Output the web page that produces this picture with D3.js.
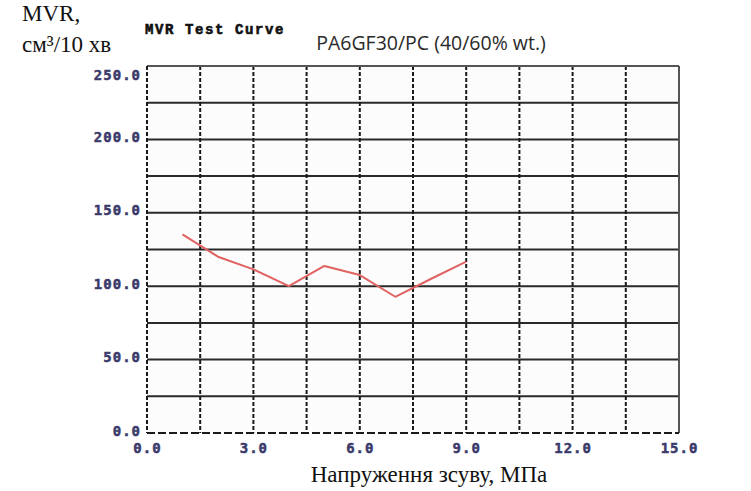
<!DOCTYPE html>
<html>
<head>
<meta charset="utf-8">
<script src="https://cdn.jsdelivr.net/npm/d3@7"></script>
<style>
  html, body { margin: 0; padding: 0; background: #ffffff; }
  svg { display: block; }
</style>
</head>
<body>
<svg id="chart" width="751" height="491"></svg>
<script>
// Shear stress (MPa) and melt volume rate (cm³/10 min)
const shearStress = [1, 2, 3, 4, 5, 6, 7, 8, 9];
const mvrValues = [135.3, 120.1, 111.5, 100.1, 113.8, 107.6, 92.8, 104.9, 116.7];
const xTickLabels = [0, 3, 6, 9, 12, 15];
const yTickLabels = [0, 50, 100, 150, 200, 250];
const xGridSteps = [1.5, 3, 4.5, 6, 7.5, 9, 10.5, 12, 13.5];
const yGridSteps = [25, 50, 75, 100, 125, 150, 175, 200, 225];

const svg = d3.select("#chart");
const plot = { left: 147, right: 679, top: 66, bottom: 433 };

const x = d3.scaleLinear().domain([0, 15]).range([plot.left, plot.right]);
const y = d3.scaleLinear().domain([0, 250]).range([plot.bottom, plot.top]);

// plot background
svg.append("rect")
  .attr("x", plot.left).attr("y", plot.top)
  .attr("width", plot.right - plot.left).attr("height", plot.bottom - plot.top)
  .attr("fill", "#fcfcfc");

// horizontal grid (solid)
svg.append("g").selectAll("line").data(yGridSteps).join("line")
  .attr("x1", plot.left).attr("x2", plot.right)
  .attr("y1", d => y(d)).attr("y2", d => y(d))
  .attr("stroke", "#2a2a2a").attr("stroke-width", 2);

// vertical grid (dashed)
svg.append("g").selectAll("line").data(xGridSteps).join("line")
  .attr("x1", d => x(d)).attr("x2", d => x(d))
  .attr("y1", plot.top).attr("y2", plot.bottom)
  .attr("stroke", "#1a1a1a").attr("stroke-width", 2)
  .attr("stroke-dasharray", "4,2");

// frame: solid top and right, dashed left and bottom
svg.append("line").attr("x1", plot.left).attr("x2", plot.right)
  .attr("y1", plot.top).attr("y2", plot.top)
  .attr("stroke", "#555").attr("stroke-width", 2);
svg.append("line").attr("x1", plot.right).attr("x2", plot.right)
  .attr("y1", plot.top).attr("y2", plot.bottom)
  .attr("stroke", "#555").attr("stroke-width", 2);
svg.append("line").attr("x1", plot.left).attr("x2", plot.left)
  .attr("y1", plot.top).attr("y2", plot.bottom)
  .attr("stroke", "#1a1a1a").attr("stroke-width", 2).attr("stroke-dasharray", "4,2");
svg.append("line").attr("x1", plot.left).attr("x2", plot.right)
  .attr("y1", plot.bottom).attr("y2", plot.bottom)
  .attr("stroke", "#1a1a1a").attr("stroke-width", 2).attr("stroke-dasharray", "8,3");

// axes with tick labels
const tickFont = "'DejaVu Sans Mono', monospace";
const tickColor = "#3b3b6b";
const yAxis = d3.axisLeft(y).tickValues(yTickLabels).tickSize(0).tickPadding(6)
  .tickFormat(d3.format(".1f"));
const gy = svg.append("g").attr("transform", `translate(${plot.left},0)`).call(yAxis);
gy.select(".domain").remove();
gy.selectAll("text")
  .attr("font-family", tickFont).attr("font-weight", "bold")
  .attr("font-size", 14).attr("letter-spacing", 1)
  .attr("fill", tickColor).attr("stroke", tickColor).attr("stroke-width", 0.5)
  .attr("dy", d => d === 250 ? "0.95em" : "0.15em");

const xAxis = d3.axisBottom(x).tickValues(xTickLabels).tickSize(0).tickPadding(15)
  .tickFormat(d3.format(".1f"));
const gx = svg.append("g").attr("transform", `translate(0,${plot.bottom})`).call(xAxis);
gx.select(".domain").remove();
gx.selectAll("text")
  .attr("font-family", tickFont).attr("font-weight", "bold")
  .attr("font-size", 14).attr("letter-spacing", 1)
  .attr("fill", tickColor).attr("stroke", tickColor).attr("stroke-width", 0.5)
  .attr("dy", "0.35em");

// data line
const line = d3.line().x((d, i) => x(shearStress[i])).y(d => y(d));
svg.append("path").datum(mvrValues)
  .attr("d", line)
  .attr("fill", "none")
  .attr("stroke", "#e06262").attr("stroke-width", 2)
  .attr("stroke-linejoin", "round");

// titles
svg.append("text").attr("x", 145).attr("y", 34)
  .attr("font-family", "'Liberation Mono', monospace").attr("font-weight", "bold")
  .attr("font-size", 14).attr("letter-spacing", 1.6).attr("fill", "#111")
  .attr("stroke", "#111").attr("stroke-width", 0.6)
  .text("MVR Test Curve");

svg.append("text").attr("x", 431).attr("y", 50).attr("text-anchor", "middle")
  .attr("font-family", "'Open Sans', sans-serif")
  .attr("font-size", 19.5).attr("fill", "#2a2a2a")
  .text("PA6GF30/PC (40/60% wt.)");

svg.append("text").attr("x", 22).attr("y", 21)
  .attr("font-family", "'Liberation Serif', serif")
  .attr("font-size", 23).attr("fill", "#111")
  .text("MVR,");
svg.append("text").attr("x", 22).attr("y", 52)
  .attr("font-family", "'Liberation Serif', serif")
  .attr("font-size", 23).attr("fill", "#111")
  .text("см³/10 хв");

svg.append("text").attr("x", 429).attr("y", 482).attr("text-anchor", "middle")
  .attr("font-family", "'Liberation Serif', serif")
  .attr("font-size", 23).attr("fill", "#111")
  .text("Напруження зсуву, МПа");
</script>
</body>
</html>
